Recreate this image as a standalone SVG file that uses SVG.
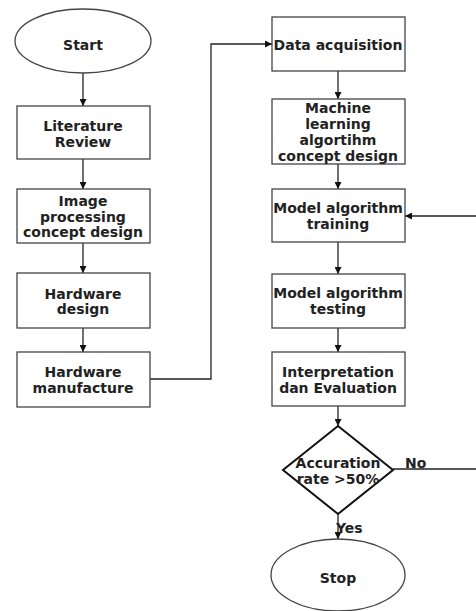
<svg xmlns="http://www.w3.org/2000/svg" width="476" height="611" viewBox="0 0 476 611">
<defs>
<marker id="ah" viewBox="0 0 10 10" refX="10" refY="5" markerWidth="7" markerHeight="7" markerUnits="userSpaceOnUse" orient="auto">
<path d="M0,0 L10,5 L0,10 Z" fill="#111"/>
</marker>
<style>
.box{fill:#fff;stroke:#444;stroke-width:1.3}
.dia{fill:#fff;stroke:#111;stroke-width:2}
.t{font-family:"DejaVu Sans",sans-serif;font-weight:bold;font-size:14px;fill:#222;text-anchor:middle}
.c{fill:none;stroke:#222;stroke-width:1.3}
</style>
</defs>
<rect width="476" height="611" fill="#fff"/>
<g id="connectors">
<path class="c" d="M83,73 V106" marker-end="url(#ah)"/>
<path class="c" d="M83,159 V189" marker-end="url(#ah)"/>
<path class="c" d="M83,243 V273" marker-end="url(#ah)"/>
<path class="c" d="M83,328 V352" marker-end="url(#ah)"/>
<path class="c" d="M150,379 H211 V44 H272" marker-end="url(#ah)"/>
<path class="c" d="M338,71 V99" marker-end="url(#ah)"/>
<path class="c" d="M338,164 V189" marker-end="url(#ah)"/>
<path class="c" d="M338,242 V274" marker-end="url(#ah)"/>
<path class="c" d="M338,328 V352" marker-end="url(#ah)"/>
<path class="c" d="M338,406 V426" marker-end="url(#ah)"/>
<path class="c" d="M393,469 H479 V216 H405" marker-end="url(#ah)"/>
<path class="c" d="M338,514 V539" marker-end="url(#ah)"/>
<text class="t" x="405" y="468" style="text-anchor:start">No</text>
<text class="t" x="336" y="533" style="text-anchor:start">Yes</text>
</g>
<g id="start">
<ellipse class="box" cx="83" cy="41" rx="68" ry="32"/>
<text class="t" x="83" y="50">Start</text>
</g>
<g id="literature">
<rect class="box" x="17" y="106" width="133" height="53"/>
<text class="t" x="83" y="131">Literature</text>
<text class="t" x="83" y="147">Review</text>
</g>
<g id="imageproc">
<rect class="box" x="17" y="189" width="133" height="54"/>
<text class="t" x="83" y="206">Image</text>
<text class="t" x="83" y="222">processing</text>
<text class="t" x="83" y="237">concept design</text>
</g>
<g id="hwdesign">
<rect class="box" x="17" y="273" width="133" height="55"/>
<text class="t" x="83" y="299">Hardware</text>
<text class="t" x="83" y="314">design</text>
</g>
<g id="hwmanuf">
<rect class="box" x="17" y="352" width="133" height="55"/>
<text class="t" x="83" y="377">Hardware</text>
<text class="t" x="83" y="393">manufacture</text>
</g>
<g id="dataacq">
<rect class="box" x="272" y="17" width="133" height="54"/>
<text class="t" x="338" y="50">Data acquisition</text>
</g>
<g id="mlconcept">
<rect class="box" x="272" y="99" width="133" height="65"/>
<text class="t" x="338" y="113">Machine</text>
<text class="t" x="338" y="129">learning</text>
<text class="t" x="338" y="145">algortihm</text>
<text class="t" x="338" y="161">concept design</text>
</g>
<g id="training">
<rect class="box" x="272" y="189" width="133" height="53"/>
<text class="t" x="338" y="213">Model algorithm</text>
<text class="t" x="338" y="229">training</text>
</g>
<g id="testing">
<rect class="box" x="272" y="274" width="133" height="54"/>
<text class="t" x="338" y="298">Model algorithm</text>
<text class="t" x="338" y="314">testing</text>
</g>
<g id="interp">
<rect class="box" x="272" y="352" width="133" height="54"/>
<text class="t" x="338" y="377">Interpretation</text>
<text class="t" x="338" y="393">dan Evaluation</text>
</g>
<g id="decision">
<path class="dia" d="M338,426 L393,470 L338,514 L283,470 Z"/>
<text class="t" x="338" y="468">Accuration</text>
<text class="t" x="338" y="484">rate &gt;50%</text>
</g>
<g id="stop">
<ellipse class="box" cx="338" cy="575" rx="67" ry="36"/>
<text class="t" x="338" y="583">Stop</text>
</g>
</svg>
